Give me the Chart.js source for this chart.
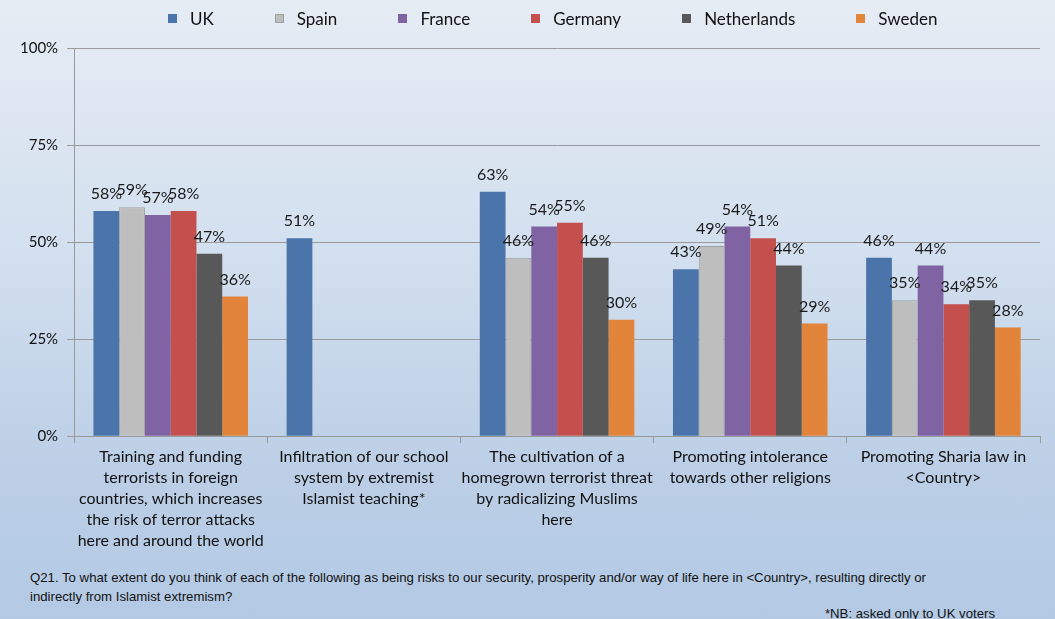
<!DOCTYPE html>
<html><head><meta charset="utf-8">
<script src="https://cdn.jsdelivr.net/npm/chart.js@4/dist/chart.umd.min.js"></script>
<style>
html,body{margin:0;padding:0;}
body{width:1055px;height:619px;overflow:hidden;position:relative;
background:linear-gradient(to bottom,#e6ecf4 0%,#d3e0ef 40%,#bccfe6 75%,#b3c9e4 100%);}
#wrap{position:absolute;left:0;top:0;width:1055px;height:556px;}
#legend{position:absolute;left:168px;top:6px;height:24px;display:flex;align-items:center;
font-family:Lato,"Open Sans",sans-serif;font-size:17px;color:#111;}
#legend .it{display:flex;align-items:center;margin-right:61px;}
#legend .sw{width:9px;height:9px;margin-right:13px;}
.note{position:absolute;font-family:"Liberation Sans",Arial,sans-serif;font-size:13.2px;color:#111;}
</style></head><body>
<div id="wrap"><canvas id="c"></canvas></div>
<div id="legend"></div>
<div class="note" style="left:30px;top:568px;width:1020px;line-height:19px;">Q21. To what extent do you think of each of the following as being risks to our security, prosperity and/or way of life here in &lt;Country&gt;, resulting directly or<br>indirectly from Islamist extremism?</div>
<div class="note" style="right:60px;top:606px;">*NB: asked only to UK voters</div>
<script>
const categories = [
  ["Training and funding","terrorists in foreign","countries, which increases","the risk of terror attacks","here and around the world"],
  ["Infiltration of our school","system by extremist","Islamist teaching*"],
  ["The cultivation of a","homegrown terrorist threat","by radicalizing Muslims","here"],
  ["Promoting intolerance","towards other religions"],
  ["Promoting Sharia law in","<Country>"]
];
const seriesNames = ["UK","Spain","France","Germany","Netherlands","Sweden"];
const uk          = [58, 51, 63, 43, 46];
const spain       = [59, null, 46, 49, 35];
const france      = [57, null, 54, 54, 44];
const germany     = [58, null, 55, 51, 34];
const netherlands = [47, null, 46, 44, 35];
const sweden      = [36, null, 30, 29, 28];
const yTicks = [0, 25, 50, 75, 100];

const colors = ["#4A74AA","#BEBEBE","#8063A3","#C4504E","#585858","#E2843A"];
const borders = ["#4A74AA","#A0A0A0","#8063A3","#C4504E","#585858","#E2843A"];
const values = [uk, spain, france, germany, netherlands, sweden];

const lg = document.getElementById('legend');
seriesNames.forEach((n,i)=>{
  const it=document.createElement('div'); it.className='it';
  const sw=document.createElement('span'); sw.className='sw'; sw.style.background=colors[i];
  if(i===1) sw.style.boxShadow='inset 0 0 0 1px '+borders[i];
  const t=document.createElement('span'); t.textContent=n;
  it.appendChild(sw); it.appendChild(t); lg.appendChild(it);
});

const FONT = 'Lato, "Open Sans", sans-serif';
const labelPlugin = {
  id:'barLabels',
  afterDatasetsDraw(chart){
    const ctx = chart.ctx;
    ctx.save();
    ctx.font = '16px ' + FONT;
    ctx.fillStyle = '#1a1a1a';
    ctx.textAlign = 'center';
    ctx.textBaseline = 'middle';
    chart.data.datasets.forEach((ds,i)=>{
      const meta = chart.getDatasetMeta(i);
      meta.data.forEach((bar,j)=>{
        const v = ds.data[j];
        if(v===null||v===undefined) return;
        ctx.fillText(v+'%', bar.x, bar.y - 17);
      });
    });
    ctx.restore();
  }
};

new Chart(document.getElementById('c'), {
  type:'bar',
  data:{
    labels: categories,
    datasets: seriesNames.map((n,i)=>({
      label:n, data:values[i], backgroundColor:colors[i], borderColor:borders[i],
      borderWidth: i===1?1:0,
      barPercentage:1.0, categoryPercentage:0.8
    }))
  },
  options:{
    responsive:true, maintainAspectRatio:false, animation:false,
    layout:{padding:{left:11,right:15,top:48,bottom:2}},
    plugins:{
      legend:{display:false},
      tooltip:{enabled:false}
    },
    scales:{
      x:{
        grid:{drawOnChartArea:false, drawTicks:true, tickLength:7, color:'#9a9a9a', offset:true},
        border:{color:'#9a9a9a'},
        ticks:{color:'#111', font:{family:FONT, size:16, lineHeight:1.31}, maxRotation:0, autoSkip:false, padding:3}
      },
      y:{
        min:0, max:100,
        afterBuildTicks(axis){ axis.ticks = yTicks.map(v=>({value:v})); },
        grid:{color:'#9a9a9a', drawTicks:true, tickLength:7},
        border:{color:'#9a9a9a'},
        ticks:{color:'#111', callback:v=>v+'%', font:{family:FONT, size:15}, padding:9}
      }
    }
  },
  plugins:[labelPlugin]
});
</script>
</body></html>
